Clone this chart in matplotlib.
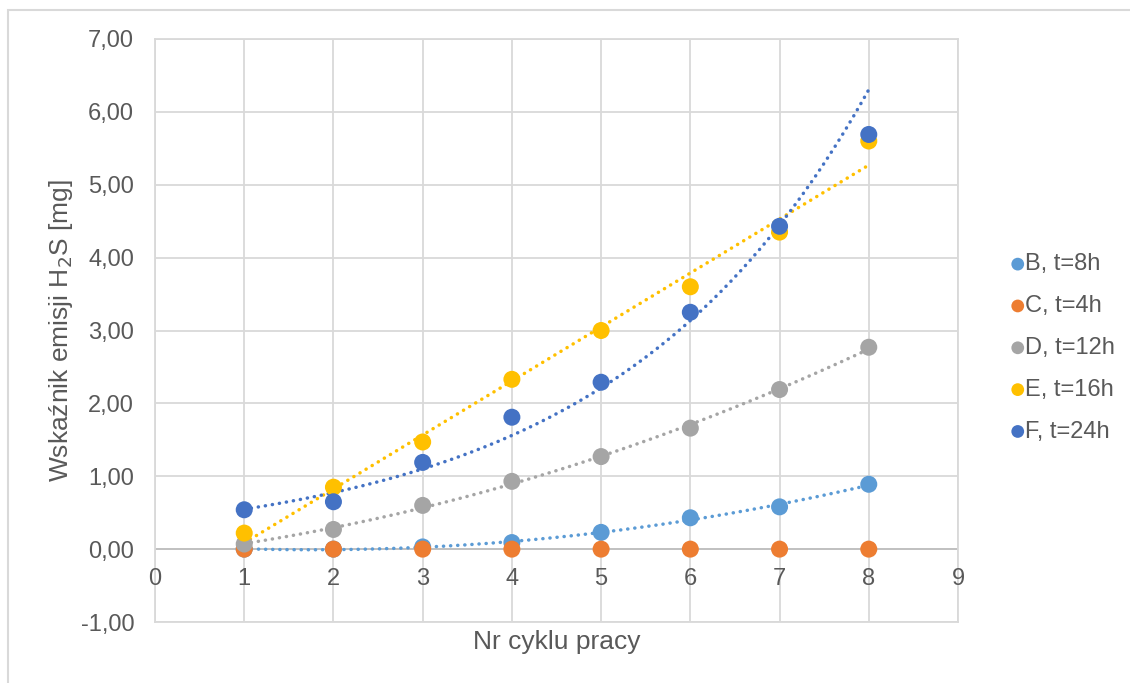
import numpy as np
import matplotlib.pyplot as plt
from matplotlib.patches import Rectangle
from matplotlib.ticker import FuncFormatter

plt.rcParams['font.family'] = ['Liberation Sans', 'DejaVu Sans']

# Dane
cykle = [1, 2, 3, 4, 5, 6, 7, 8]
B = [0.00, 0.00, 0.03, 0.09, 0.23, 0.43, 0.58, 0.89]
C = [0.00, 0.00, 0.00, 0.00, 0.00, 0.00, 0.00, 0.00]
D = [0.07, 0.27, 0.60, 0.93, 1.27, 1.66, 2.19, 2.77]
E = [0.22, 0.85, 1.47, 2.33, 3.00, 3.60, 4.35, 5.60]
F = [0.54, 0.65, 1.19, 1.81, 2.29, 3.25, 4.43, 5.69]
etykiety = ['B, t=8h', 'C, t=4h', 'D, t=12h', 'E, t=16h', 'F, t=24h']
kolory = ['#5b9bd5', '#ed7d31', '#a5a5a5', '#ffc000', '#4472c4']
# typ linii trendu (jak w Excelu)
trendy = ['poly2', None, 'poly2', 'linear', 'exp']

serie = [B, C, D, E, F]
tekst = '#595959'

fig = plt.figure(figsize=(11.3, 6.83), dpi=100)
ax = fig.add_axes([155 / 1130, 1 - 622 / 683, (958 - 155) / 1130, (622 - 39) / 683])

x = np.array(cykle, dtype=float)
xx = np.linspace(1, 8, 200)
for y, lab, kol, tr in zip(serie, etykiety, kolory, trendy):
    y = np.array(y)
    if tr == 'poly2':
        yy = np.polyval(np.polyfit(x, y, 2), xx)
    elif tr == 'linear':
        yy = np.polyval(np.polyfit(x, y, 1), xx)
    elif tr == 'exp':
        p = np.polyfit(x, np.log(y), 1)
        yy = np.exp(np.polyval(p, xx))
    else:
        yy = None
    if yy is not None:
        ax.plot(xx, yy, color=kol, lw=2.5, ls=(0, (0.05, 2.0)),
                dash_capstyle='round', zorder=2)
    ax.scatter(x, y, s=150, color=kol, label=lab, zorder=3, edgecolors='none')

ax.set_xlim(0, 9)
ax.set_ylim(-1, 7)
ax.set_xticks(range(0, 10))
ax.set_yticks(range(-1, 8))
ax.yaxis.set_major_formatter(FuncFormatter(lambda v, p: f'{v:.2f}'.replace('.', ',')))
ax.grid(True, color='#d9d9d9', lw=1.3)
ax.set_axisbelow(True)
for s in ax.spines.values():
    s.set_color('#d9d9d9')
    s.set_linewidth(1.3)
ax.tick_params(length=0, labelsize=17, colors=tekst)
ax.tick_params(axis='y', pad=15)

# os x na wysokosci zera
ax.axhline(0, color='#bfbfbf', lw=1.3, zorder=1)
ax.set_xticklabels([])
for i in range(0, 10):
    ax.text(i, -0.41, str(i), ha='center', va='center', fontsize=17, color=tekst)

ax.set_xlabel('Nr cyklu pracy', fontsize=19, color=tekst, labelpad=2)
ax.set_ylabel('Wskaźnik emisji H$_2$S [mg]', fontsize=19, color=tekst, labelpad=4)

leg = ax.legend(loc='center left', bbox_to_anchor=(1.045, 0.47), frameon=False,
                fontsize=17, handletextpad=-0.3, labelspacing=0.84, markerscale=0.75,
                borderaxespad=0, handlelength=1.2)
for t in leg.get_texts():
    t.set_color(tekst)

# ramka wykresu
fig.patches.append(Rectangle((8 / 1130, -0.1), 1.2, 1 - 10 / 683 + 0.1,
                             transform=fig.transFigure, fill=False,
                             edgecolor='#d9d9d9', lw=1.5))

fig.savefig('out.png', dpi=100)
